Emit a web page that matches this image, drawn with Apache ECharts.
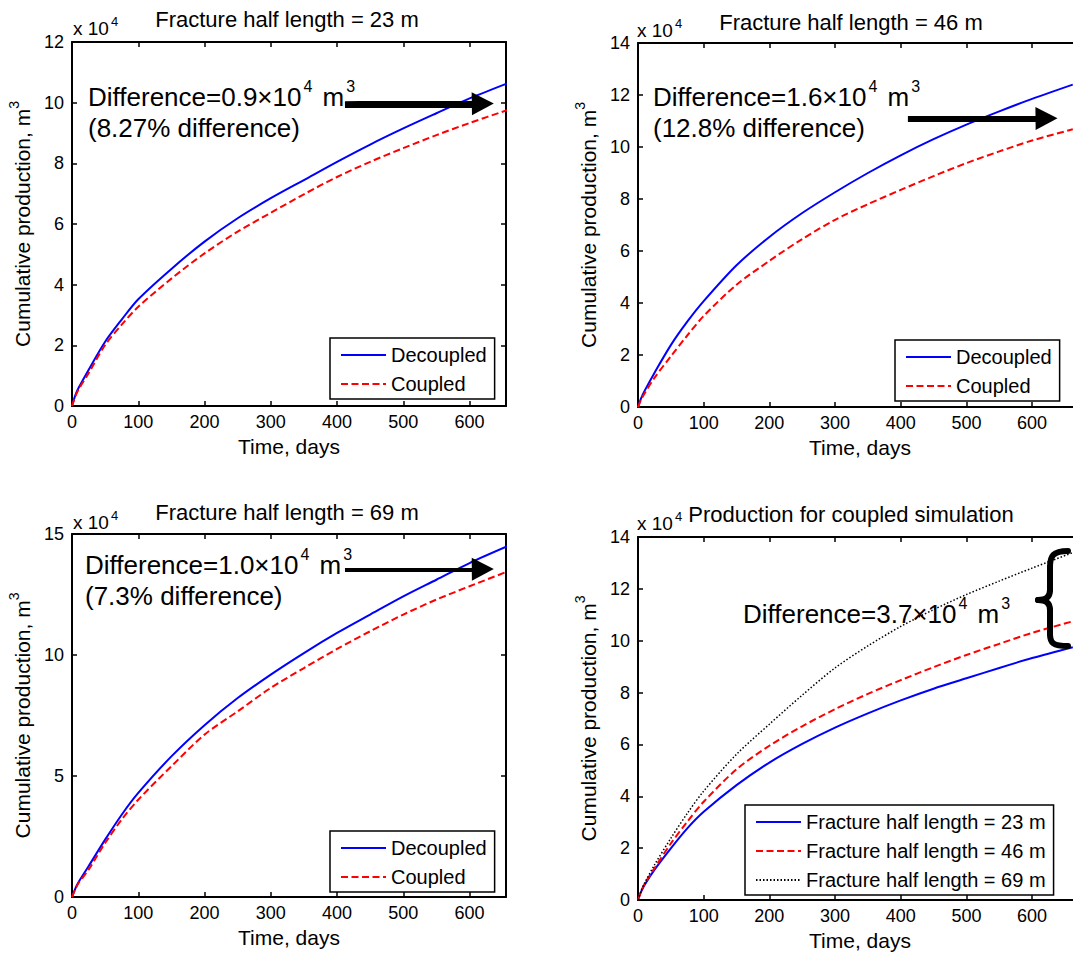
<!DOCTYPE html>
<html><head><meta charset="utf-8">
<script src="https://cdn.jsdelivr.net/npm/echarts@6/dist/echarts.min.js"></script>
<style>html,body{margin:0;padding:0;background:#fff}#c{width:1073px;height:953px}</style>
</head><body><div id="c"></div><script>
// ---- data (cumulative production in units of 10^4 m^3) ----
const days = [0, 5, 10, 25, 50, 75, 100, 150, 200, 250, 300, 350, 400, 450, 500, 550, 600, 662];
const xTicks = [0, 100, 200, 300, 400, 500, 600];
// Fracture half length = 23 m
const decoupled23 = [0, 0.35, 0.6, 1.19, 2.12, 2.85, 3.52, 4.52, 5.42, 6.19, 6.85, 7.45, 8.05, 8.62, 9.15, 9.65, 10.14, 10.68];
const coupled23   = [0, 0.32, 0.55, 1.08, 2.01, 2.68, 3.27, 4.2, 5.03, 5.75, 6.37, 6.98, 7.55, 8.05, 8.5, 8.93, 9.33, 9.79];
// Fracture half length = 46 m
const decoupled46 = [0, 0.35, 0.62, 1.31, 2.38, 3.28, 4.07, 5.45, 6.54, 7.46, 8.26, 9.0, 9.68, 10.3, 10.86, 11.37, 11.85, 12.4];
const coupled46   = [0, 0.3, 0.52, 1.12, 1.95, 2.75, 3.5, 4.7, 5.62, 6.46, 7.2, 7.8, 8.35, 8.88, 9.38, 9.83, 10.25, 10.68];
// Fracture half length = 69 m
const decoupled69 = [0, 0.35, 0.62, 1.27, 2.37, 3.4, 4.3, 5.81, 7.1, 8.22, 9.19, 10.08, 10.91, 11.67, 12.42, 13.11, 13.8, 14.55];
const coupled69   = [0, 0.32, 0.58, 1.13, 2.23, 3.2, 4.02, 5.4, 6.71, 7.67, 8.64, 9.46, 10.25, 10.98, 11.67, 12.29, 12.84, 13.5];
// Production for coupled simulation (as drawn in 4th panel)
const coupledSim23 = [0, 0.33, 0.58, 1.16, 1.99, 2.76, 3.4, 4.43, 5.3, 6.02, 6.65, 7.2, 7.7, 8.15, 8.55, 8.95, 9.33, 9.75];
const coupledSim46 = [0, 0.35, 0.62, 1.22, 2.18, 3.02, 3.79, 5.04, 5.95, 6.7, 7.36, 7.95, 8.48, 8.98, 9.45, 9.88, 10.3, 10.75];
const coupledSim69 = [0, 0.37, 0.65, 1.35, 2.38, 3.34, 4.2, 5.62, 6.78, 7.9, 8.95, 9.8, 10.55, 11.2, 11.78, 12.3, 12.8, 13.4];

const titles = ['Fracture half length = 23 m', 'Fracture half length = 46 m', 'Fracture half length = 69 m', 'Production for coupled simulation'];
const legendNames = ['Decoupled', 'Coupled'];
const simNames = ['Fracture half length = 23 m', 'Fracture half length = 46 m', 'Fracture half length = 69 m'];
const diffText = [['0.9', '(8.27% difference)'], ['1.6', '(12.8% difference)'], ['1.0', '(7.3% difference)'], ['3.7', null]];

// ---- styling / layout ----
const FONT = '"Liberation Sans", Arial, Helvetica, sans-serif';
const pair = d => days.map((x, i) => [x, d[i]]);
const STY = {
  solid: {color: '#0000ff', type: 'solid', width: 2},
  dash:  {color: '#ff0000', type: [7, 3.5], width: 2},
  dot:   {color: '#000000', type: [1.5, 2], width: 1.5}
};
const panels = [
  {grid: {left: 72, top: 42, width: 434, height: 364}, xMax: 655, yMax: 12, yInt: 2,
   titleX: 287, titleY: 20, multX: 73, multY: 28,
   series: [[legendNames[0], decoupled23, 'solid'], [legendNames[1], coupled23, 'dash']],
   legend: {left: 330, top: 338}, arrow: [[412, 9.9], [620, 9.97]], ann: [88, 97]},
  {grid: {left: 638, top: 43, width: 444, height: 364}, xMax: 676, yMax: 14, yInt: 2,
   titleX: 851, titleY: 23, multX: 637, multY: 30,
   series: [[legendNames[0], decoupled46, 'solid'], [legendNames[1], coupled46, 'dash']],
   legend: {left: 895, top: 340}, arrow: [[411, 11.04], [622, 11.1]], ann: [653, 97]},
  {grid: {left: 72, top: 534, width: 434, height: 363}, xMax: 655, yMax: 15, yInt: 5,
   titleX: 287, titleY: 513, multX: 73, multY: 522,
   series: [[legendNames[0], decoupled69, 'solid'], [legendNames[1], coupled69, 'dash']],
   legend: {left: 330, top: 831}, arrow: [[412, 13.51], [620, 13.55]], ann: [85, 565]},
  {grid: {left: 638, top: 537, width: 444, height: 363}, xMax: 676, yMax: 14, yInt: 2,
   titleX: 851, titleY: 515, multX: 637, multY: 523,
   series: [[simNames[0], coupledSim23, 'solid'], [simNames[1], coupledSim46, 'dash'], [simNames[2], coupledSim69, 'dot']],
   legend: {left: 745, top: 805}, arrow: null, ann: [743, 614]}
];

const option = {
  animation: false, backgroundColor: '#fff',
  textStyle: {fontFamily: FONT},
  title: [], grid: [], xAxis: [], yAxis: [], series: [], legend: [], graphic: []
};
const axLine = {show: true, onZero: false, lineStyle: {color: '#000', width: 2}};
const axTick = {show: true, inside: true, length: 5, lineStyle: {color: '#000', width: 1.5}};
const richAnn = {
  a: {fontSize: 26, fontFamily: FONT, color: '#000', lineHeight: 38},
  s: {fontSize: 16, fontFamily: FONT, color: '#000', lineHeight: 16, verticalAlign: 'top', padding: [0, 3, 0, 2]}
};
const richMult = {
  m: {fontSize: 19, fontFamily: FONT, color: '#000', lineHeight: 26},
  t: {fontSize: 13, fontFamily: FONT, color: '#000', lineHeight: 13, verticalAlign: 'top', padding: [0, 0, 0, 2]}
};

panels.forEach((p, gi) => {
  option.grid.push(Object.assign({containLabel: false, outerBoundsMode: 'none'}, p.grid));
  option.title.push({text: titles[gi], left: p.titleX, top: p.titleY - 12, textAlign: 'center', padding: 0,
    textStyle: {fontSize: 22, fontWeight: 'normal', color: '#000', fontFamily: FONT}});
  const xi = option.xAxis.length, yi = option.yAxis.length;
  option.xAxis.push({type: 'value', gridIndex: gi, min: 0, max: p.xMax, interval: 100, position: 'bottom',
    axisLine: axLine, axisTick: axTick, splitLine: {show: false},
    axisLabel: {color: '#000', fontSize: 18, margin: 7, fontFamily: FONT, showMaxLabel: false},
    name: 'Time, days', nameLocation: 'middle', nameGap: 30,
    nameTextStyle: {fontSize: 21, color: '#000', fontFamily: FONT}});
  option.xAxis.push({type: 'value', gridIndex: gi, min: 0, max: p.xMax, interval: 100, position: 'top',
    axisLine: axLine, axisTick: axTick, splitLine: {show: false}, axisLabel: {show: false}});
  option.yAxis.push({type: 'value', gridIndex: gi, min: 0, max: p.yMax, interval: p.yInt, position: 'left',
    axisLine: axLine, axisTick: axTick, splitLine: {show: false},
    axisLabel: {color: '#000', fontSize: 18, margin: 8, fontFamily: FONT},
    name: 'Cumulative production, m{s|3}', nameLocation: 'middle', nameGap: 35, nameRotate: 90,
    nameTextStyle: {fontSize: 21, color: '#000', fontFamily: FONT, lineHeight: 30,
      rich: {s: {fontSize: 14, fontFamily: FONT, color: '#000', lineHeight: 14, verticalAlign: 'top'}}}});
  option.yAxis.push({type: 'value', gridIndex: gi, min: 0, max: p.yMax, interval: p.yInt, position: 'right',
    axisLine: axLine, axisTick: axTick, splitLine: {show: false}, axisLabel: {show: false}});
  p.series.forEach((s, si) => {
    const ser = {type: 'line', name: s[0], xAxisIndex: xi, yAxisIndex: yi, data: pair(s[1]),
      symbol: 'none', smooth: 0.3, lineStyle: STY[s[2]], itemStyle: {color: STY[s[2]].color},
      z: 3 + si};
    if (si === 0 && p.arrow) {
      ser.markLine = {silent: true, symbol: ['none', 'triangle'], symbolSize: [23, 22], label: {show: false},
        lineStyle: {color: '#000', width: 9, type: 'solid', shadowColor: 'rgba(0,0,0,0.35)', shadowBlur: 4, shadowOffsetX: 2, shadowOffsetY: 2},
        itemStyle: {color: '#000'}, emphasis: {disabled: true},
        data: [[{coord: p.arrow[0]}, {coord: p.arrow[1]}]]};
    }
    option.series.push(ser);
  });
  option.legend.push({data: p.series.map(s => s[0]), orient: 'vertical', left: p.legend.left, top: p.legend.top,
    itemWidth: 45, itemHeight: 14, itemGap: 9, padding: [7, 8, 5, 10], borderColor: '#000', borderWidth: 1.5,
    backgroundColor: '#fff', selectedMode: false, z: 10, itemStyle: {opacity: 0, borderWidth: 0},
    textStyle: {fontSize: 20, color: '#000', fontFamily: FONT}});
  option.graphic.push({type: 'text', x: p.multX, y: p.multY, z: 20,
    style: {text: '{m|x 10}{t|4}', rich: richMult, align: 'left', verticalAlign: 'middle'}});
  const d = diffText[gi];
  option.graphic.push({type: 'text', x: p.ann[0], y: p.ann[1], z: 20,
    style: {text: '{a|Difference=' + d[0] + '×10}{s|4}{a| m}{s|3}', rich: richAnn, align: 'left', verticalAlign: 'middle'}});
  if (d[1]) option.graphic.push({type: 'text', x: p.ann[0], y: p.ann[1] + 31, z: 20,
    style: {text: d[1], fontSize: 26, fontFamily: FONT, fill: '#000', align: 'left', verticalAlign: 'middle'}});
});
// curly brace in 4th panel (annotation)
const braceStyle = {stroke: '#000', lineWidth: 6, fill: null, lineCap: 'round'};
const braceParts = [
  {type: 'bezierCurve', shape: {x1: 1068, y1: 551, cpx1: 1053, cpy1: 551, cpx2: 1050, cpy2: 556, x2: 1050, y2: 567}},
  {type: 'line', shape: {x1: 1050, y1: 567, x2: 1050, y2: 590}},
  {type: 'bezierCurve', shape: {x1: 1050, y1: 590, cpx1: 1050, cpy1: 597, cpx2: 1046, cpy2: 600, x2: 1038, y2: 600}},
  {type: 'bezierCurve', shape: {x1: 1038, y1: 600, cpx1: 1046, cpy1: 600, cpx2: 1050, cpy2: 603, x2: 1050, y2: 610}},
  {type: 'line', shape: {x1: 1050, y1: 610, x2: 1050, y2: 634}},
  {type: 'bezierCurve', shape: {x1: 1050, y1: 634, cpx1: 1050, cpy1: 643, cpx2: 1053, cpy2: 646, x2: 1068, y2: 646}}
];
braceParts.forEach(b => option.graphic.push(Object.assign({z: 20, style: braceStyle}, b)));

const chart = echarts.init(document.getElementById('c'), null, {renderer: 'svg'});
chart.setOption(option);
</script></body></html>
